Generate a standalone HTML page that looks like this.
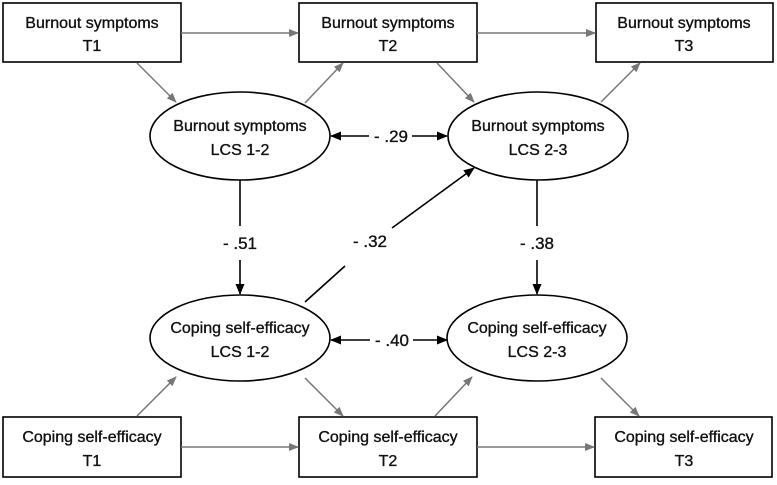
<!DOCTYPE html>
<html><head><style>
body{margin:0;background:#fff;}
svg text{font-family:"Liberation Sans",Arial,sans-serif;font-size:16px;fill:#111;stroke:#111;stroke-width:0.35;text-anchor:middle;}
svg text.l{font-size:17px;}
</style></head><body>
<svg width="777" height="480" viewBox="0 0 777 480" xmlns="http://www.w3.org/2000/svg">
<defs>
<marker id="g" markerWidth="10" markerHeight="8" refX="9" refY="4" orient="auto" markerUnits="userSpaceOnUse"><path d="M0,0 L10,4 L0,8 Z" fill="#777"/></marker>
<marker id="k" markerWidth="11" markerHeight="9" refX="10" refY="4.5" orient="auto" markerUnits="userSpaceOnUse"><path d="M0,0 L11,4.5 L0,9 Z" fill="#000"/></marker>
<marker id="ks" markerWidth="11" markerHeight="9" refX="1" refY="4.5" orient="auto" markerUnits="userSpaceOnUse"><path d="M11,0 L0,4.5 L11,9 Z" fill="#000"/></marker>
</defs>
<g fill="#fff" stroke="#000" stroke-width="1.6">
<rect x="3" y="3" width="178" height="59"/>
<rect x="299" y="3" width="178" height="59"/>
<rect x="596" y="3" width="177" height="59"/>
<rect x="3" y="417" width="178" height="60"/>
<rect x="299" y="417" width="178" height="60"/>
<rect x="595" y="417" width="177" height="60"/>
<ellipse cx="240" cy="136" rx="90" ry="44"/>
<ellipse cx="538" cy="136" rx="90" ry="44"/>
<ellipse cx="240" cy="338" rx="90" ry="43"/>
<ellipse cx="537" cy="338" rx="90" ry="43"/>
</g>
<g stroke="#777" stroke-width="1.5" fill="none" marker-end="url(#g)">
<line x1="181" y1="33" x2="298" y2="33"/>
<line x1="477" y1="33" x2="595" y2="33"/>
<line x1="181" y1="447" x2="298" y2="447"/>
<line x1="477" y1="447" x2="594" y2="447"/>
<line x1="137" y1="63" x2="176" y2="102"/>
<line x1="305" y1="103" x2="343" y2="63"/>
<line x1="437" y1="63" x2="474" y2="102"/>
<line x1="601" y1="102" x2="640" y2="63"/>
<line x1="137" y1="416" x2="176" y2="377"/>
<line x1="305" y1="378" x2="343" y2="416"/>
<line x1="435" y1="416" x2="472" y2="377"/>
<line x1="601" y1="378" x2="639" y2="416"/>
</g>
<g stroke="#000" stroke-width="1.6" fill="none">
<line x1="240" y1="180" x2="240" y2="226"/>
<line x1="240" y1="260" x2="240" y2="294" marker-end="url(#k)"/>
<line x1="537" y1="180" x2="537" y2="226"/>
<line x1="537" y1="260" x2="537" y2="294" marker-end="url(#k)"/>
<line x1="331" y1="136" x2="369" y2="136" marker-start="url(#ks)"/>
<line x1="412" y1="136" x2="447" y2="136" marker-end="url(#k)"/>
<line x1="331" y1="340" x2="370" y2="340" marker-start="url(#ks)"/>
<line x1="413" y1="340" x2="447" y2="340" marker-end="url(#k)"/>
<line x1="305" y1="302" x2="345" y2="266"/>
<line x1="392" y1="228" x2="474" y2="168" marker-end="url(#k)"/>
</g>
<text x="92" y="28">Burnout symptoms</text><text x="92" y="51">T1</text>
<text x="388" y="28">Burnout symptoms</text><text x="388" y="51">T2</text>
<text x="684" y="28">Burnout symptoms</text><text x="684" y="51">T3</text>
<text x="240" y="131">Burnout symptoms</text><text x="240" y="155">LCS 1-2</text>
<text x="538" y="131">Burnout symptoms</text><text x="538" y="155">LCS 2-3</text>
<text x="240" y="333">Coping self-efficacy</text><text x="240" y="357">LCS 1-2</text>
<text x="537" y="333">Coping self-efficacy</text><text x="537" y="357">LCS 2-3</text>
<text x="92" y="442">Coping self-efficacy</text><text x="92" y="466">T1</text>
<text x="388" y="442">Coping self-efficacy</text><text x="388" y="466">T2</text>
<text x="684" y="442">Coping self-efficacy</text><text x="684" y="466">T3</text>
<text class="l" x="391" y="142">- .29</text>
<text class="l" x="392" y="346">- .40</text>
<text class="l" x="240" y="249">- .51</text>
<text class="l" x="537" y="249">- .38</text>
<text class="l" x="370" y="247">- .32</text>
</svg>
</body></html>
